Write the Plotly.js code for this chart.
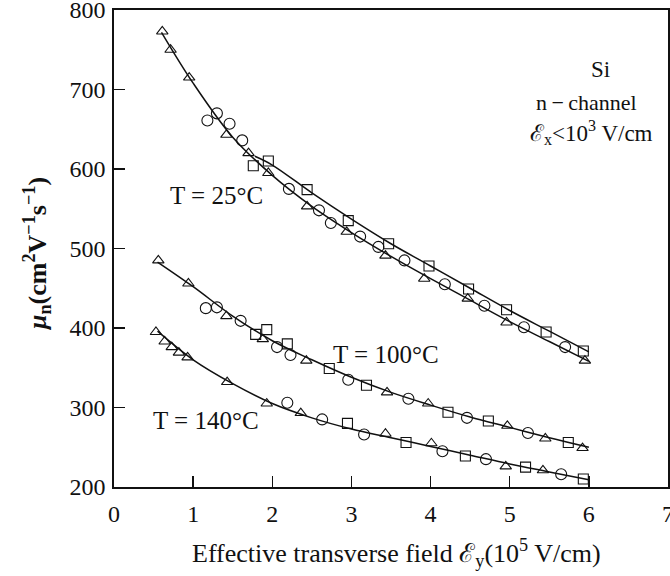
<!DOCTYPE html>
<html>
<head>
<meta charset="utf-8">
<script src="https://cdn.plot.ly/plotly-3.0.1.min.js"></script>
<style>html,body{margin:0;padding:0;background:#fff;}#chart{width:670px;height:576px;}</style>
</head>
<body>
<div id="chart"></div>
<script>
// 25 °C
const t25_tri_x = [0.61, 0.715, 0.95, 1.42, 1.70, 1.95, 2.44, 2.94, 3.43, 3.92, 4.47, 4.96, 5.95];
const t25_tri_y = [773, 750, 715, 643, 620, 595, 553, 521, 491, 462, 437, 407, 359];
const t25_cir_x = [1.18, 1.30, 1.46, 1.62, 2.21, 2.59, 2.74, 3.11, 3.34, 3.67, 4.18, 4.68, 5.18, 5.70];
const t25_cir_y = [661, 670, 657, 636, 575, 548, 532, 515, 502, 485, 455, 428, 401, 376];
const t25_sq_x = [1.76, 1.95, 2.44, 2.96, 3.47, 3.98, 4.48, 4.96, 5.46, 5.93];
const t25_sq_y = [604, 610, 574, 535, 506, 478, 449, 423, 395, 371];
const t25_fitA_x = [0.6, 1.0, 1.5, 2.0, 2.5, 3.0, 3.5, 4.0, 4.5, 5.0, 5.5, 6.0];
const t25_fitA_y = [772, 708, 640, 592, 553, 520, 490, 462, 435, 408, 383, 358];
const t25_fitB_x = [1.78, 2.0, 2.5, 3.0, 3.5, 4.0, 4.5, 5.0, 5.5, 6.0];
const t25_fitB_y = [616, 605, 570, 537, 506, 478, 450, 422, 396, 370];

// 100 °C
const t100_tri_x = [0.56, 0.94, 1.42, 1.88, 2.43, 3.45, 3.97, 4.97, 5.45, 5.92];
const t100_tri_y = [485, 456, 415, 386, 359, 319, 305, 277, 261, 249];
const t100_cir_x = [1.16, 1.30, 1.60, 2.06, 2.23, 2.96, 3.72, 4.46, 5.23];
const t100_cir_y = [425, 426, 409, 376, 366, 335, 311, 287, 268];
const t100_sq_x = [1.79, 1.93, 2.19, 2.72, 3.19, 4.22, 4.73, 5.74];
const t100_sq_y = [392, 398, 380, 349, 328, 294, 283, 256];
const t100_fit_x = [0.55, 1.0, 1.5, 2.0, 2.5, 3.0, 3.5, 4.0, 4.5, 5.0, 5.5, 6.0];
const t100_fit_y = [483, 452, 415, 384, 360, 338, 319, 303, 288, 275, 262, 250];

// 140 °C
const t140_tri_x = [0.53, 0.64, 0.73, 0.82, 0.93, 1.43, 1.93, 2.36, 3.43, 4.01, 4.95, 5.42];
const t140_tri_y = [395, 383, 376, 369, 363, 332, 305, 293, 267, 255, 226, 221];
const t140_cir_x = [2.19, 2.63, 3.16, 4.15, 4.70, 5.65];
const t140_cir_y = [306, 285, 266, 245, 235, 216];
const t140_sq_x = [2.95, 3.69, 4.44, 5.20, 5.93];
const t140_sq_y = [280, 256, 239, 225, 210];
const t140_fit_x = [0.55, 1.0, 1.5, 2.0, 2.5, 3.0, 3.5, 4.0, 4.5, 5.0, 5.5, 6.0];
const t140_fit_y = [396, 360, 330, 305, 287, 273, 262, 251, 240, 229, 219, 209];

const xTicks = [0, 1, 2, 3, 4, 5, 6, 7];
const yTicks = [200, 300, 400, 500, 600, 700, 800];

const FONT = "'Liberation Serif', 'Times New Roman', serif";

function line(x, y) {
  return {x, y, mode: 'lines', type: 'scatter', line: {color: '#111', width: 1.5, shape: 'spline', smoothing: 1}, hoverinfo: 'skip'};
}
function pts(x, y, sym) {
  const size = sym === 'circle-open' ? 11 : 10;
  return {x, y, mode: 'markers', type: 'scatter', marker: {symbol: sym, size, color: '#111', line: {width: 1.1, color: '#111'}}};
}

const data = [
  line(t25_fitA_x, t25_fitA_y), line(t25_fitB_x, t25_fitB_y),
  line(t100_fit_x, t100_fit_y), line(t140_fit_x, t140_fit_y),
  pts(t25_tri_x, t25_tri_y, 'triangle-up-open'), pts(t25_cir_x, t25_cir_y, 'circle-open'), pts(t25_sq_x, t25_sq_y, 'square-open'),
  pts(t100_tri_x, t100_tri_y, 'triangle-up-open'), pts(t100_cir_x, t100_cir_y, 'circle-open'), pts(t100_sq_x, t100_sq_y, 'square-open'),
  pts(t140_tri_x, t140_tri_y, 'triangle-up-open'), pts(t140_cir_x, t140_cir_y, 'circle-open'), pts(t140_sq_x, t140_sq_y, 'square-open')
];

// helper: place a text by its pixel centre in the 670x576 page
const PL = 114, PR = 2, PT = 10, PB = 89;
const PW = 670 - PL - PR, PH = 576 - PT - PB;
function annPx(cx, cy, text, size, extra) {
  return Object.assign({
    x: (cx - PL) / PW, y: (576 - PB - cy) / PH, xref: 'paper', yref: 'paper',
    xanchor: 'center', yanchor: 'middle', text, showarrow: false,
    font: {family: FONT, size: size, color: '#111'}
  }, extra || {});
}

const layout = {
  width: 670, height: 576,
  margin: {l: PL, r: PR, t: PT, b: PB},
  paper_bgcolor: '#fff', plot_bgcolor: '#fff',
  showlegend: false,
  font: {family: FONT, size: 24, color: '#111'},
  xaxis: {
    range: [0, 7], tickvals: xTicks, ticktext: xTicks.map(String),
    ticks: 'inside', ticklen: 11, tickwidth: 1.5, tickcolor: '#111',
    showline: true, linewidth: 1.8, linecolor: '#111', mirror: true,
    showgrid: false, zeroline: false, fixedrange: true,
    tickfont: {family: FONT, size: 24, color: '#111'},
    ticklabeloverflow: 'allow', ticklabelstandoff: 4
  },
  yaxis: {
    range: [200, 800], tickvals: yTicks, ticktext: yTicks.map(String),
    ticks: 'inside', ticklen: 11, tickwidth: 1.5, tickcolor: '#111',
    showline: true, linewidth: 1.8, linecolor: '#111', mirror: true,
    showgrid: false, zeroline: false, fixedrange: true,
    tickfont: {family: FONT, size: 24, color: '#111'},
    ticklabeloverflow: 'allow', ticklabelstandoff: 2
  },
  annotations: [
    annPx(216.7, 195.5, 'T = 25°C', 25),
    annPx(385.5, 354, 'T = 100°C', 25),
    annPx(206, 420, 'T = 140°C', 25),
    annPx(600, 70, 'Si', 23),
    annPx(586, 103, 'n\u2009\u2212\u2009channel', 22),
    annPx(591, 132, '\u2130<sub>x</sub><10<sup>3</sup> V/cm', 23),
    annPx(396.5, 553, 'Effective transverse field \u2130<sub>y</sub>(10<sup>5</sup> V/cm)', 26),
    annPx(37, 254, '<b><i>\u03bc</i><sub>n</sub>(cm<sup>2</sup>V<sup>\u22121</sup>s<sup>\u22121</sup>)</b>', 26, {textangle: -90})
  ]
};

Plotly.newPlot('chart', data, layout, {staticPlot: true, displayModeBar: false});
</script>
</body>
</html>
